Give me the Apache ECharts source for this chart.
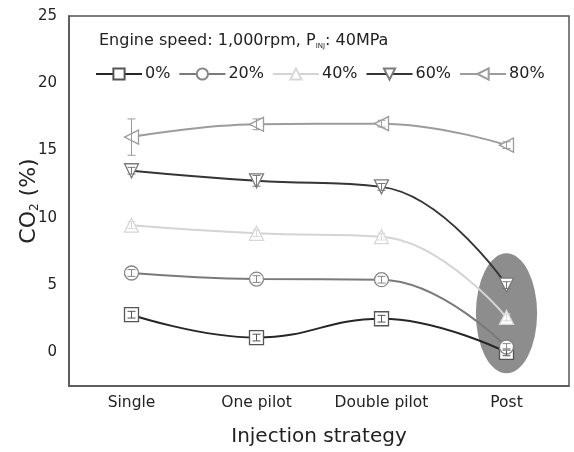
<!DOCTYPE html>
<html>
<head>
<meta charset="utf-8">
<script src="https://cdn.jsdelivr.net/npm/echarts@6/dist/echarts.min.js"></script>
<style>
  html, body { margin: 0; padding: 0; background: #fff; }
  #chart { width: 574px; height: 452px; }
</style>
</head>
<body>
<div id="chart"></div>
<script>
// injection strategies on x axis
var strategies = ['Single', 'One pilot', 'Double pilot', 'Post'];
var seriesNames = ['0%', '20%', '40%', '60%', '80%'];

// CO2 (%)
var co2_0 = [2.8, 1.1, 2.5, 0.0];
var co2_20 = [5.9, 5.45, 5.4, 0.4];
var co2_40 = [9.45, 8.85, 8.6, 2.6];
var co2_60 = [13.5, 12.75, 12.3, 5.0];
var co2_80 = [16.0, 16.95, 17.0, 15.4];

// error bar half widths
var err_0 = [0.25, 0.25, 0.25, 0.25];
var err_20 = [0.25, 0.25, 0.25, 0.25];
var err_40 = [0.25, 0.25, 0.25, 0.25];
var err_60 = [0.25, 0.4, 0.25, 0.25];
var err_80 = [1.35, 0.4, 0.25, 0.25];

// highlighted region around Post
var highlight = ['Post', 2.9];

var yTicks = [0, 5, 10, 15, 20, 25];

var allValues = [co2_0, co2_20, co2_40, co2_60, co2_80];
var allErrors = [err_0, err_20, err_40, err_60, err_80];
var lineColors = ['#262626', '#7a7a7a', '#d4d4d4', '#353535', '#9c9c9c'];
var markColors = ['#555', '#888', '#d8d8d8', '#7a7a7a', '#9c9c9c'];
var symbols = ['rect', 'circle', 'triangle', 'triangle', 'triangle'];
var rotations = [0, 0, 0, 180, 90];

var chart = echarts.init(document.getElementById('chart'));

var series = [];

// grey ellipse behind the post points
series.push({
	type: 'custom',
	silent: true,
	z: 1,
	data: [highlight],
	renderItem: function(params, api){
		var c = api.coord([api.value(0), api.value(1)]);
		return {
			type: 'circle',
			x: c[0],
			y: c[1],
			scaleX: 0.51,
			shape: { cx: 0, cy: 0, r: 60 },
			style: { fill: '#8d8d8d' }
		};
	}
});

for (var i = 0; i < seriesNames.length; i++){
	series.push({
		name: seriesNames[i],
		type: 'line',
		smooth: 0.45,
		z: 3,
		data: allValues[i],
		symbol: symbols[i],
		symbolSize: 14,
		symbolRotate: rotations[i],
		lineStyle: { color: lineColors[i], width: 2 },
		itemStyle: { color: '#fff', borderColor: markColors[i], borderWidth: 1.3 }
	});

	// error bars
	var errData = [];
	for (var j = 0; j < strategies.length; j++){
		errData.push([j, allValues[i][j], allErrors[i][j]]);
	}
	(function(col){
		series.push({
			type: 'custom',
			silent: true,
			z: 4,
			data: errData,
			renderItem: function(params, api){
				var x = api.value(0);
				var hi = api.coord([x, api.value(1) + api.value(2)]);
				var lo = api.coord([x, api.value(1) - api.value(2)]);
				var st = { stroke: col, lineWidth: 1 };
				return {
					type: 'group',
					children: [
						{ type: 'line', shape: { x1: hi[0], y1: hi[1], x2: lo[0], y2: lo[1] }, style: st },
						{ type: 'line', shape: { x1: hi[0] - 4, y1: hi[1], x2: hi[0] + 4, y2: hi[1] }, style: st },
						{ type: 'line', shape: { x1: lo[0] - 4, y1: lo[1], x2: lo[0] + 4, y2: lo[1] }, style: st }
					]
				};
			}
		});
	})(markColors[i]);
}

var option = {
	backgroundColor: '#fff',
	animation: false,
	textStyle: { fontFamily: 'DejaVu Sans' },
	title: {
		left: 94,
		top: 27,
		text: '{a|Engine speed: 1,000rpm, P}{s|INJ}{a|: 40MPa}',
		textStyle: {
			fontWeight: 'normal',
			rich: {
				a: { fontSize: 16, color: '#222', fontWeight: 'normal', fontFamily: 'DejaVu Sans' },
				s: { fontSize: 7, color: '#222', fontWeight: 'normal', fontFamily: 'DejaVu Sans', padding: [11, 0, 0, 0] }
			}
		}
	},
	legend: {
		left: 90,
		top: 61,
		itemWidth: 46,
		itemHeight: 14,
		itemGap: 8,
		data: seriesNames,
		textStyle: { fontSize: 16, color: '#222', padding: [0, 0, 0, -2] }
	},
	grid: {
		left: 69,
		right: 5,
		top: 16,
		bottom: 66,
		containLabel: false,
		outerBoundsMode: 'none',
		show: true,
		borderColor: '#555',
		borderWidth: 1.5
	},
	xAxis: {
		type: 'category',
		data: strategies,
		name: 'Injection strategy',
		nameLocation: 'middle',
		nameGap: 41,
		nameTextStyle: { fontSize: 20, color: '#222' },
		axisLine: { onZero: false, lineStyle: { color: '#555', width: 1.5 } },
		axisTick: { inside: true, alignWithLabel: true, length: 6, lineStyle: { color: '#555' } },
		axisLabel: { fontSize: 15.5, color: '#222', margin: 9 },
		splitLine: { show: false }
	},
	yAxis: {
		type: 'value',
		min: -2.5,
		max: 25,
		interval: 2.5,
		name: '{a|CO}{s|2}{a| (%)}',
		nameLocation: 'middle',
		nameRotate: 90,
		nameGap: 28,
		nameMoveOverlap: false,
		nameTextStyle: {
			rich: {
				a: { fontSize: 22, color: '#222', fontFamily: 'DejaVu Sans' },
				s: { fontSize: 12, color: '#222', fontFamily: 'DejaVu Sans', padding: [12, 0, 0, 0] }
			}
		},
		axisLine: { show: true, lineStyle: { color: '#555', width: 1.5 } },
		axisTick: { inside: true, length: 5, lineStyle: { color: '#555' } },
		axisLabel: {
			fontSize: 15,
			color: '#222',
			margin: 12,
			formatter: function(v){
				return yTicks.indexOf(v) >= 0 ? String(v) : '';
			}
		},
		splitLine: { show: false }
	},
	series: series
};

chart.setOption(option);
</script>
</body>
</html>
